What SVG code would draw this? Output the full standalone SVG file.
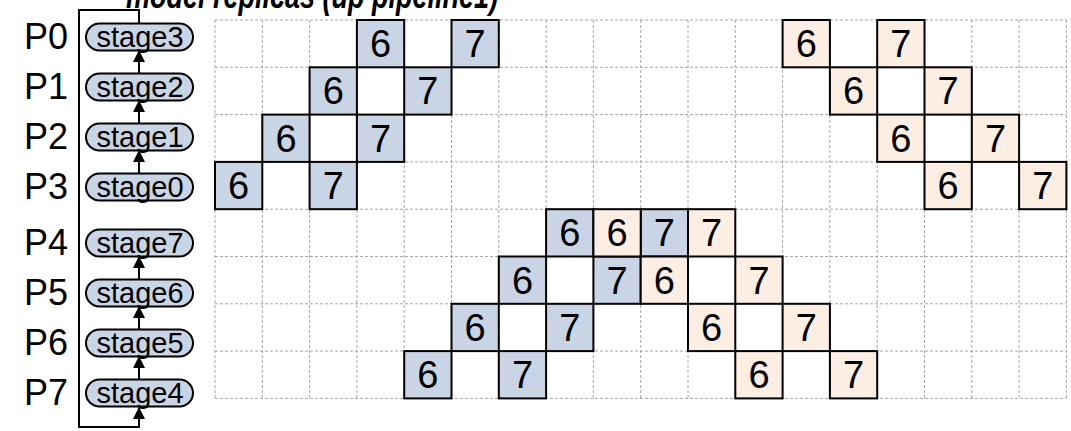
<svg xmlns="http://www.w3.org/2000/svg" width="1071" height="431" viewBox="0 0 1071 431">
<style>
.grid{stroke:#A6A6A6;stroke-width:1;stroke-dasharray:3 2;fill:none}
.cb{fill:#C9D5E5;stroke:#000;stroke-width:2}
.co{fill:#FCEEE3;stroke:#000;stroke-width:2}
.num{font-family:"Liberation Sans",Arial,sans-serif;font-size:38px;fill:#000;text-anchor:middle}
.pill{fill:#C9D5E5;stroke:#000;stroke-width:2}
.pt{font-family:"Liberation Sans",Arial,sans-serif;font-size:29px;fill:#000;text-anchor:middle}
.pl{font-family:"Liberation Sans",Arial,sans-serif;font-size:36px;fill:#000;text-anchor:end}
.ln{stroke:#000;stroke-width:2;fill:none}
.title{font-family:"Liberation Sans",Arial,sans-serif;font-size:36px;font-weight:bold;font-style:italic;fill:#000}
</style>
<defs>
<marker id="ah" markerWidth="12" markerHeight="12" refX="11" refY="6" orient="auto" markerUnits="userSpaceOnUse">
<path d="M0,0 L12,6 L0,12 Z" fill="#000"/>
</marker>
</defs>
<rect x="0" y="0" width="1071" height="431" fill="#fff"/>
<text class="title" x="126" y="8" textLength="372" lengthAdjust="spacingAndGlyphs">model replicas (up pipeline1)</text>
<g id="grid">
<path class="grid" d="M215,20V398.4M262.3,20V398.4M309.6,20V398.4M356.9,20V398.4M404.2,20V398.4M451.5,20V398.4M498.8,20V398.4M546.1,20V398.4M593.4,20V398.4M640.7,20V398.4M688,20V398.4M735.3,20V398.4M782.6,20V398.4M829.9,20V398.4M877.2,20V398.4M924.5,20V398.4M971.8,20V398.4M1019.1,20V398.4M1066.4,20V398.4"/>
<path class="grid" d="M215,20H1066.4M215,67.3H1066.4M215,114.6H1066.4M215,161.9H1066.4M215,209.2H1066.4M215,256.5H1066.4M215,303.8H1066.4M215,351.1H1066.4M215,398.4H1066.4"/>
</g>
<g id="labels">
<text class="pl" x="68" y="49">P0</text>
<text class="pl" x="68" y="99">P1</text>
<text class="pl" x="68" y="149">P2</text>
<text class="pl" x="68" y="199">P3</text>
<text class="pl" x="68" y="255">P4</text>
<text class="pl" x="68" y="305">P5</text>
<text class="pl" x="68" y="355">P6</text>
<text class="pl" x="68" y="405">P7</text>
</g>
<g id="connectors">
<path class="ln" d="M139,23.5V10H79V427H139V408" marker-end="url(#ah)"/>
<line class="ln" x1="139" y1="73.5" x2="139" y2="51" marker-end="url(#ah)"/>
<line class="ln" x1="139" y1="123.5" x2="139" y2="101" marker-end="url(#ah)"/>
<line class="ln" x1="139" y1="173.5" x2="139" y2="151" marker-end="url(#ah)"/>
<line class="ln" x1="139" y1="279.5" x2="139" y2="257" marker-end="url(#ah)"/>
<line class="ln" x1="139" y1="329.5" x2="139" y2="307" marker-end="url(#ah)"/>
<line class="ln" x1="139" y1="379.5" x2="139" y2="357" marker-end="url(#ah)"/>
</g>
<g id="stage3"><rect class="pill" x="86" y="23.5" width="107" height="27" rx="13.5"/><text class="pt" x="140" y="47">stage3</text></g>
<g id="stage2"><rect class="pill" x="86" y="73.5" width="107" height="27" rx="13.5"/><text class="pt" x="140" y="97">stage2</text></g>
<g id="stage1"><rect class="pill" x="86" y="123.5" width="107" height="27" rx="13.5"/><text class="pt" x="140" y="147">stage1</text></g>
<g id="stage0"><rect class="pill" x="86" y="173.5" width="107" height="27" rx="13.5"/><text class="pt" x="140" y="197">stage0</text></g>
<g id="stage7"><rect class="pill" x="86" y="229.5" width="107" height="27" rx="13.5"/><text class="pt" x="140" y="253">stage7</text></g>
<g id="stage6"><rect class="pill" x="86" y="279.5" width="107" height="27" rx="13.5"/><text class="pt" x="140" y="303">stage6</text></g>
<g id="stage5"><rect class="pill" x="86" y="329.5" width="107" height="27" rx="13.5"/><text class="pt" x="140" y="353">stage5</text></g>
<g id="stage4"><rect class="pill" x="86" y="379.5" width="107" height="27" rx="13.5"/><text class="pt" x="140" y="403">stage4</text></g>
<g id="blue-cells">
<g id="b-r0-c3"><rect class="cb" x="356.9" y="20" width="47.3" height="47.3"/><text class="num" x="380.55" y="57">6</text></g>
<g id="b-r0-c5"><rect class="cb" x="451.5" y="20" width="47.3" height="47.3"/><text class="num" x="475.15" y="57">7</text></g>
<g id="b-r1-c2"><rect class="cb" x="309.6" y="67.3" width="47.3" height="47.3"/><text class="num" x="333.25" y="104.3">6</text></g>
<g id="b-r1-c4"><rect class="cb" x="404.2" y="67.3" width="47.3" height="47.3"/><text class="num" x="427.85" y="104.3">7</text></g>
<g id="b-r2-c1"><rect class="cb" x="262.3" y="114.6" width="47.3" height="47.3"/><text class="num" x="285.95" y="151.6">6</text></g>
<g id="b-r2-c3"><rect class="cb" x="356.9" y="114.6" width="47.3" height="47.3"/><text class="num" x="380.55" y="151.6">7</text></g>
<g id="b-r3-c0"><rect class="cb" x="215" y="161.9" width="47.3" height="47.3"/><text class="num" x="238.65" y="198.9">6</text></g>
<g id="b-r3-c2"><rect class="cb" x="309.6" y="161.9" width="47.3" height="47.3"/><text class="num" x="333.25" y="198.9">7</text></g>
<g id="b-r4-c7"><rect class="cb" x="546.1" y="209.2" width="47.3" height="47.3"/><text class="num" x="569.75" y="246.2">6</text></g>
<g id="b-r4-c9"><rect class="cb" x="640.7" y="209.2" width="47.3" height="47.3"/><text class="num" x="664.35" y="246.2">7</text></g>
<g id="b-r5-c6"><rect class="cb" x="498.8" y="256.5" width="47.3" height="47.3"/><text class="num" x="522.45" y="293.5">6</text></g>
<g id="b-r5-c8"><rect class="cb" x="593.4" y="256.5" width="47.3" height="47.3"/><text class="num" x="617.05" y="293.5">7</text></g>
<g id="b-r6-c5"><rect class="cb" x="451.5" y="303.8" width="47.3" height="47.3"/><text class="num" x="475.15" y="340.8">6</text></g>
<g id="b-r6-c7"><rect class="cb" x="546.1" y="303.8" width="47.3" height="47.3"/><text class="num" x="569.75" y="340.8">7</text></g>
<g id="b-r7-c4"><rect class="cb" x="404.2" y="351.1" width="47.3" height="47.3"/><text class="num" x="427.85" y="388.1">6</text></g>
<g id="b-r7-c6"><rect class="cb" x="498.8" y="351.1" width="47.3" height="47.3"/><text class="num" x="522.45" y="388.1">7</text></g>
</g>
<g id="orange-cells">
<g id="o-r0-c12"><rect class="co" x="782.6" y="20" width="47.3" height="47.3"/><text class="num" x="806.25" y="57">6</text></g>
<g id="o-r0-c14"><rect class="co" x="877.2" y="20" width="47.3" height="47.3"/><text class="num" x="900.85" y="57">7</text></g>
<g id="o-r1-c13"><rect class="co" x="829.9" y="67.3" width="47.3" height="47.3"/><text class="num" x="853.55" y="104.3">6</text></g>
<g id="o-r1-c15"><rect class="co" x="924.5" y="67.3" width="47.3" height="47.3"/><text class="num" x="948.15" y="104.3">7</text></g>
<g id="o-r2-c14"><rect class="co" x="877.2" y="114.6" width="47.3" height="47.3"/><text class="num" x="900.85" y="151.6">6</text></g>
<g id="o-r2-c16"><rect class="co" x="971.8" y="114.6" width="47.3" height="47.3"/><text class="num" x="995.45" y="151.6">7</text></g>
<g id="o-r3-c15"><rect class="co" x="924.5" y="161.9" width="47.3" height="47.3"/><text class="num" x="948.15" y="198.9">6</text></g>
<g id="o-r3-c17"><rect class="co" x="1019.1" y="161.9" width="47.3" height="47.3"/><text class="num" x="1042.75" y="198.9">7</text></g>
<g id="o-r4-c8"><rect class="co" x="593.4" y="209.2" width="47.3" height="47.3"/><text class="num" x="617.05" y="246.2">6</text></g>
<g id="o-r4-c10"><rect class="co" x="688" y="209.2" width="47.3" height="47.3"/><text class="num" x="711.65" y="246.2">7</text></g>
<g id="o-r5-c9"><rect class="co" x="640.7" y="256.5" width="47.3" height="47.3"/><text class="num" x="664.35" y="293.5">6</text></g>
<g id="o-r5-c11"><rect class="co" x="735.3" y="256.5" width="47.3" height="47.3"/><text class="num" x="758.95" y="293.5">7</text></g>
<g id="o-r6-c10"><rect class="co" x="688" y="303.8" width="47.3" height="47.3"/><text class="num" x="711.65" y="340.8">6</text></g>
<g id="o-r6-c12"><rect class="co" x="782.6" y="303.8" width="47.3" height="47.3"/><text class="num" x="806.25" y="340.8">7</text></g>
<g id="o-r7-c11"><rect class="co" x="735.3" y="351.1" width="47.3" height="47.3"/><text class="num" x="758.95" y="388.1">6</text></g>
<g id="o-r7-c13"><rect class="co" x="829.9" y="351.1" width="47.3" height="47.3"/><text class="num" x="853.55" y="388.1">7</text></g>
</g>
</svg>
